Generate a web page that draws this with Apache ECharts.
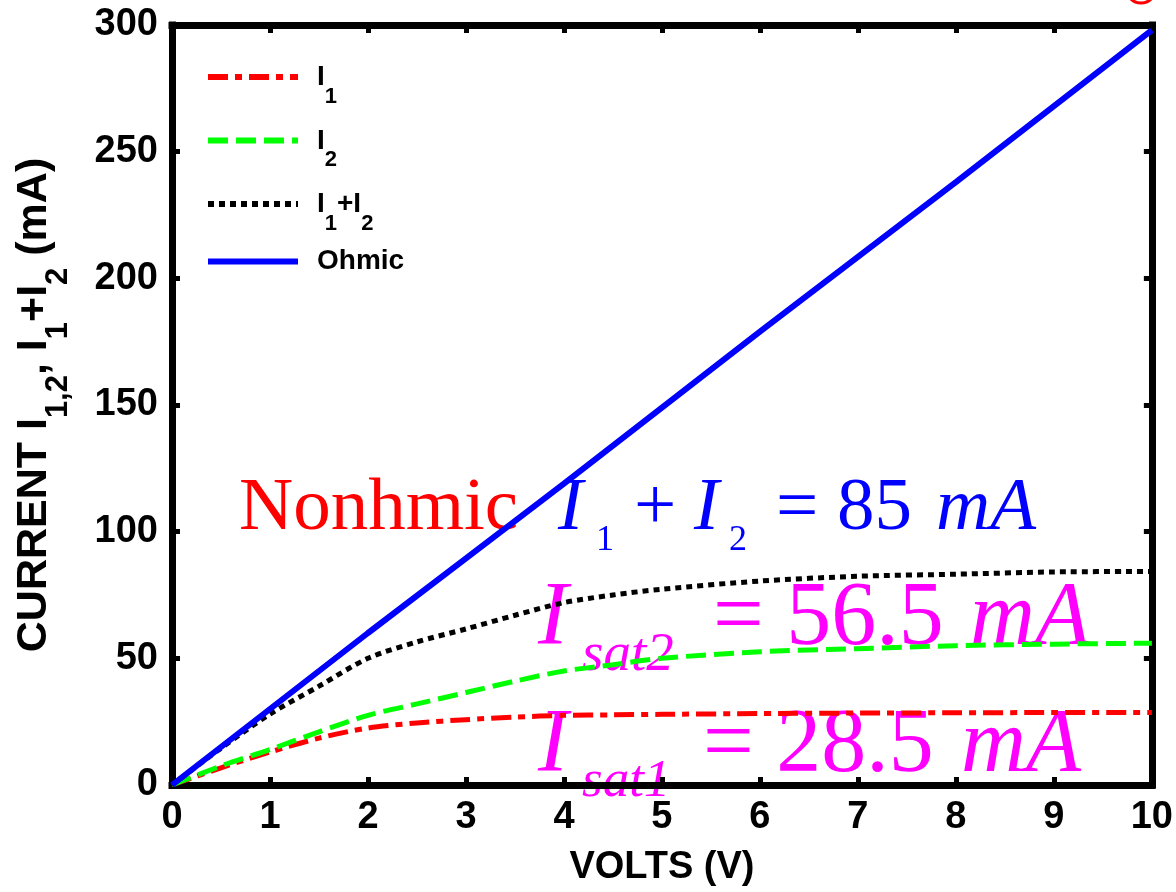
<!DOCTYPE html>
<html>
<head>
<meta charset="utf-8">
<script src="https://cdn.jsdelivr.net/npm/echarts@6/dist/echarts.min.js"></script>
<style>
  html, body { margin: 0; padding: 0; background: #ffffff; }
  #chart { width: 1176px; height: 892px; }
</style>
</head>
<body>
<div id="chart"></div>
<script>
// ---- data ----
const volts   = [0, 0.5, 1, 1.5, 2, 2.5, 3, 3.5, 4, 4.5, 5, 6, 7, 8, 9, 10];
const i1      = [0, 6.8, 13, 18.5, 22.5, 24.5, 25.8, 26.8, 27.5, 27.7, 27.9, 28.2, 28.4, 28.5, 28.6, 28.6];
const i2      = [0, 7.5, 14, 21, 27.5, 32, 36.5, 41, 45, 47.5, 50, 52.6, 53.8, 55, 55.6, 56];
const iSum    = [0, 14.5, 28, 39, 50, 56.5, 61.6, 67, 72, 75, 77.3, 80.5, 82.4, 83.2, 84.1, 84.3];
const ohmicV  = [0, 1, 2, 3, 4, 5, 6, 7, 8, 9, 10];
const ohmic   = [0, 30, 60, 89.5, 119, 149, 179, 208.5, 238, 268, 298];
const seriesNames = ['I1', 'I2', 'I1+I2', 'Ohmic'];
const xTitle = 'VOLTS (V)';

const zip = (xs, ys) => xs.map((x, k) => [x, ys[k]]);

const SANS = '"Liberation Sans", Arial, sans-serif';
const SERIF = '"Liberation Serif", "Times New Roman", serif';

const chart = echarts.init(document.getElementById('chart'), null, { renderer: 'canvas' });

const legendLabels = {
  'I1': '{g| }{b|I}{s|1}',
  'I2': '{g| }{b|I}{s|2}',
  'I1+I2': '{g| }{b|I}{s|1}{b|+I}{s|2}',
  'Ohmic': '{h| }{o|Ohmic}'
};

function axisCommon(showLabel) {
  return {
    axisLine: { show: true, onZero: false, lineStyle: { color: '#000', width: 7, cap: 'square' } },
    axisTick: { show: true, inside: true, length: 8, lineStyle: { color: '#000', width: 5 } },
    splitLine: { show: false },
    axisLabel: {
      show: showLabel, color: '#000', fontFamily: SANS, fontWeight: 'bold', fontSize: 38, margin: 14
    }
  };
}

function txt(x, y, text, size, color, italic) {
  return {
    type: 'text', z: 0, silent: true,
    style: {
      x: x, y: y, text: text,
      font: (italic ? 'italic ' : '') + size + 'px ' + SERIF,
      fill: color, align: 'left', verticalAlign: 'middle'
    }
  };
}

const BLUE = '#0000ff', MAG = '#ff00ff', RED = '#ff0000';

const option = {
  backgroundColor: '#ffffff',
  animation: false,
  grid: { left: 172, right: 24, top: 25, bottom: 103, containLabel: false },
  legend: {
    orient: 'vertical', left: 205, top: 57, padding: 0,
    itemWidth: 90, itemHeight: 14, itemGap: 13,
    data: seriesNames,
    itemStyle: { opacity: 0 },
    lineStyle: { width: 6 },
    formatter: name => legendLabels[name],
    textStyle: {
      color: '#000', fontFamily: SANS, fontWeight: 'bold',
      rich: {
        g: { width: 14, height: 40, lineHeight: 27, verticalAlign: 'middle' },
        h: { width: 14, lineHeight: 27 },
        b: { fontSize: 28, fontWeight: 'bold', fontFamily: SANS, lineHeight: 27, verticalAlign: 'top', padding: [0, 0, 0, 0], color: '#000' },
        s: { fontSize: 22, fontWeight: 'bold', fontFamily: SANS, lineHeight: 21, verticalAlign: 'top', padding: [22, 0, 0, 0], color: '#000' },
        o: { fontSize: 28, fontWeight: 'bold', fontFamily: SANS, lineHeight: 27, color: '#000' }
      }
    }
  },
  xAxis: [
    Object.assign(axisCommon(true), {
      type: 'value', min: 0, max: 10, interval: 1, position: 'bottom',
      name: xTitle, nameLocation: 'middle', nameGap: 64,
      nameTextStyle: { color: '#000', fontFamily: SANS, fontWeight: 'bold', fontSize: 38 }
    }),
    Object.assign(axisCommon(false), {
      type: 'value', min: 0, max: 10, interval: 1, position: 'top'
    })
  ],
  yAxis: [
    Object.assign(axisCommon(true), {
      type: 'value', min: 0, max: 300, interval: 50, position: 'left',
      name: '{m|CURRENT I}{s|1,2}{m|, I}{s|1}{m|+I}{s|2}{m| (mA)}',
      nameLocation: 'middle', nameGap: 116,
      nameTextStyle: {
        color: '#000', fontFamily: SANS, fontWeight: 'bold', fontSize: 43,
        rich: {
          m: { fontSize: 43, fontWeight: 'bold', fontFamily: SANS, lineHeight: 43, verticalAlign: 'top', padding: [0, 0, 0, 0], color: '#000' },
          s: { fontSize: 31, fontWeight: 'bold', fontFamily: SANS, lineHeight: 31, verticalAlign: 'top', padding: [30, 0, 0, 0], color: '#000' }
        }
      }
    }),
    Object.assign(axisCommon(false), {
      type: 'value', min: 0, max: 300, interval: 50, position: 'right'
    })
  ],
  series: [
    {
      name: 'I1', type: 'line', data: zip(volts, i1), symbol: 'none', smooth: 0.3, z: 3,
      lineStyle: { color: RED, width: 5, type: [20, 7, 7, 7] }, itemStyle: { color: RED }
    },
    {
      name: 'I2', type: 'line', data: zip(volts, i2), symbol: 'none', smooth: 0.3, z: 4,
      lineStyle: { color: '#00ff00', width: 5, type: [20, 8] }, itemStyle: { color: '#00ff00' }
    },
    {
      name: 'I1+I2', type: 'line', data: zip(volts, iSum), symbol: 'none', smooth: 0.3, z: 5,
      lineStyle: { color: '#000000', width: 5, type: [6, 5] }, itemStyle: { color: '#000000' }
    },
    {
      name: 'Ohmic', type: 'line', data: zip(ohmicV, ohmic), symbol: 'none', z: 6,
      lineStyle: { color: BLUE, width: 6, type: 'solid' }, itemStyle: { color: BLUE }
    }
  ],
  graphic: [
    // "Nonhmic" and I1 + I2 = 85 mA
    txt(239, 509, 'Nonhmic', 75, RED, false),
    txt(558, 509, 'I', 75, BLUE, true),
    txt(596, 541, '1', 36, BLUE, false),
    txt(634, 509, '+', 75, BLUE, false),
    txt(694, 509, 'I', 75, BLUE, true),
    txt(729, 541, '2', 36, BLUE, false),
    txt(776, 509, '= 85', 75, BLUE, false),
    txt(936, 509, 'mA', 75, BLUE, true),
    // Isat2 = 56.5 mA
    txt(538, 620, 'I', 90, MAG, true),
    txt(582, 656, 'sat2', 55, MAG, true),
    txt(713, 620, '= 56.5', 90, MAG, false),
    txt(970, 620, 'mA', 90, MAG, true),
    // Isat1 = 28.5 mA
    txt(538, 747, 'I', 90, MAG, true),
    txt(582, 782, 'sat1', 53, MAG, true),
    txt(703, 747, '= 28.5', 90, MAG, false),
    txt(961, 747, 'mA', 90, MAG, true),
    // cut-off red circle in the top-right corner
    { type: 'circle', z: 0, silent: true, shape: { cx: 1141, cy: -12, r: 15 }, style: { fill: 'none', stroke: RED, lineWidth: 3 } }
  ]
};

chart.setOption(option);
</script>
</body>
</html>
